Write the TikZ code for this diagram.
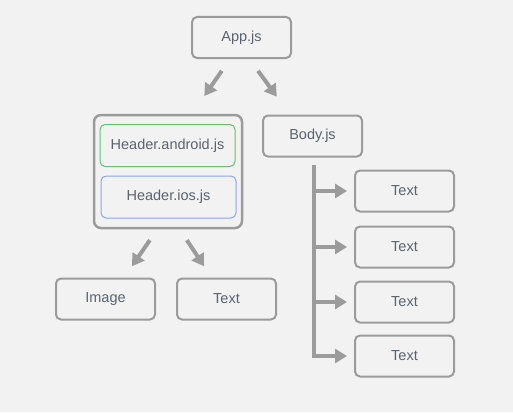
\documentclass[tikz,border=0pt]{standalone}
\usepackage{fontspec}
\setmainfont{Liberation Sans}
\usetikzlibrary{arrows.meta}
\definecolor{bgc}{HTML}{F2F2F2}
\definecolor{edgec}{HTML}{9B9B9B}
\definecolor{txtc}{HTML}{5B6370}
\definecolor{andc}{HTML}{66C26A}
\definecolor{iosc}{HTML}{86A8EC}

\begin{document}
\begin{tikzpicture}[x=1pt,y=-1pt,
  box/.style={draw=edgec,line width=2pt,rounded corners=5pt,
    minimum width=99pt,minimum height=41pt,inner sep=0pt,
    text=txtc,font=\fontsize{14.5}{16}\selectfont},
  grp/.style={draw=edgec,line width=2.5pt,rounded corners=7pt,
    minimum width=148pt,minimum height=113pt,inner sep=0pt},
  inbox/.style={box,line width=1pt,minimum width=135pt,minimum height=42pt},
  arr/.style={edgec,line width=4pt,-{Triangle[length=12pt,width=14pt]}},
  trunk/.style={edgec,line width=4pt}]
% canvas
\fill[bgc] (0,0) rectangle (513,412);
% top level
\node[box] (app) at (241.5,37.5) {App.js};
% header group with the two platform files
\node[grp] (header) at (168,171.5) {};
\node[inbox,draw=andc] (android) at (167.5,145.5) {Header.android.js\hspace{8pt}};
\node[inbox,draw=iosc] (ios) at (168.5,197) {Header.ios.js};
\node[box] (body) at (312.5,136) {Body.js};
% children of the header
\node[box] (image) at (105.5,299) {Image};
\node[box] (htext) at (226.5,299) {Text};
% children of the body
\node[box] (t1) at (404.5,191) {Text};
\node[box] (t2) at (404.5,247) {Text};
\node[box] (t3) at (404.5,302) {Text};
\node[box] (t4) at (404.5,356) {Text};
% arrows out of App.js
\draw[arr,shorten <=14.4pt,shorten >=21.6pt] ([xshift=-11.5pt]app.south) -- ([xshift=24pt]header.north);
\draw[arr,shorten <=14.6pt,shorten >=22pt] ([xshift=8pt]app.south) -- ([xshift=-22.8pt]body.north);
% arrows out of the header
\draw[arr,shorten <=13.2pt,shorten >=13.6pt] ([xshift=-10.7pt]header.south) -- ([xshift=18.7pt]image.north);
\draw[arr,shorten <=13pt,shorten >=13.4pt] ([xshift=11.7pt]header.south) -- ([xshift=-15pt]htext.north);
% body trunk and branches
\coordinate (tk) at (314,165);
\coordinate (tkend) at (314,358);
\draw[trunk] (tk) -- (tkend);
\foreach \i in {1,...,4}
  \draw[arr,shorten >=7pt] (tk |- t\i) -- (t\i.west);
\end{tikzpicture}
\end{document}
